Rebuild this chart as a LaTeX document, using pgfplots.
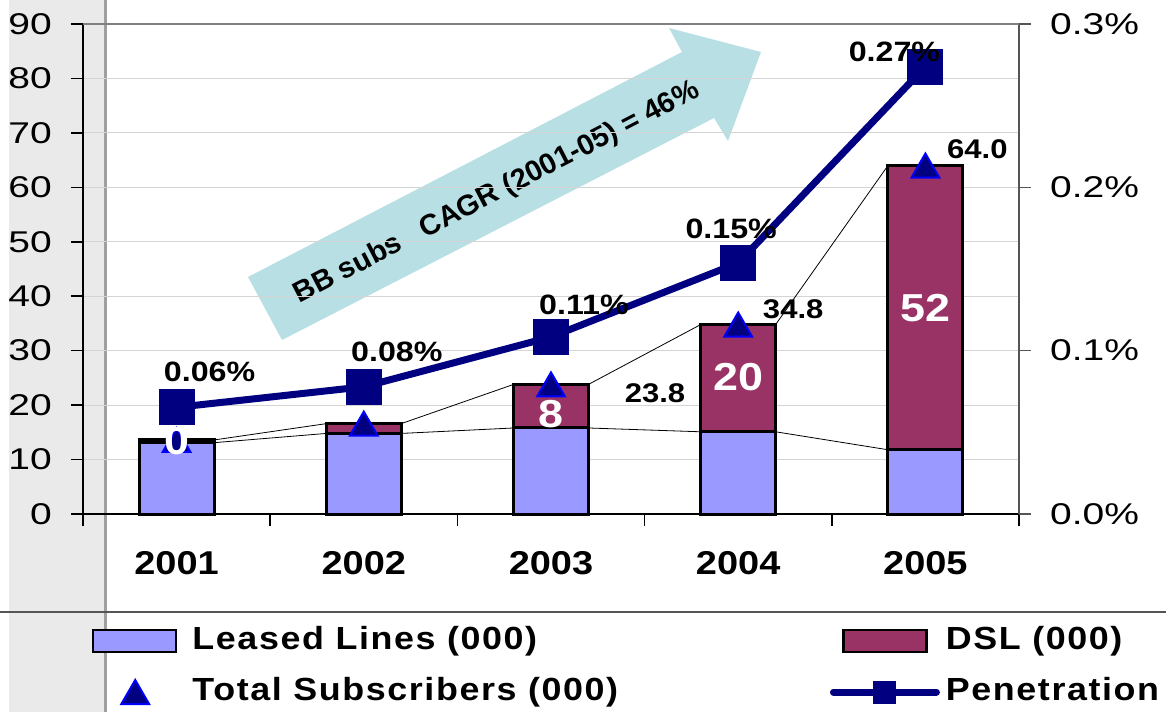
\documentclass[border=0pt]{standalone}
\usepackage{fontspec}
\usepackage{pgfplots}
\pgfplotsset{compat=1.18}
\setmainfont{Liberation Sans}
\newfontfamily\tickfont[FakeStretch=1.3]{Liberation Sans}
\newfontfamily\lblfont[FakeStretch=1.15]{Liberation Sans Bold}
\newfontfamily\legfont[FakeStretch=1.12, LetterSpace=5]{Liberation Sans Bold}
\newfontfamily\arrfont{Liberation Sans Bold}
\definecolor{leased}{HTML}{9999FF}
\definecolor{dsl}{HTML}{993366}
\definecolor{navyc}{HTML}{000080}
\definecolor{arrowc}{HTML}{B8DFE3}
\definecolor{gridc}{HTML}{D4D4D4}
\definecolor{bandc}{HTML}{EAEAEA}
\definecolor{bandline}{HTML}{A0A0A0}
\definecolor{sepc}{HTML}{555555}
\pgfplotsset{
  tri legend/.style={legend image code/.code={\draw[##1, mark repeat=2, mark phase=2] plot coordinates {(0pt,0pt) (42pt,0pt) (84pt,0pt)};}},
  pen legend/.style={legend image code/.code={\draw[##1, line cap=round, mark size=10.5pt, mark repeat=2, mark phase=2] plot coordinates {(0pt,0pt) (51pt,0pt) (103pt,0pt)};}},
  my legend/.style={legend style={at={#1}, anchor=north west, draw=none, fill=none,
    inner sep=0pt, outer sep=0pt, font=\legfont\fontsize{32}{32}\selectfont,
    row sep=20pt, nodes={inner sep=0pt, text height=24pt, text depth=7pt}},
    legend cell align=left},
}
\begin{document}
\begin{tikzpicture}
\useasboundingbox (0,0) rectangle (1166pt,712pt);
\fill[bandc] (9pt,0pt) rectangle (105pt,712pt);
\draw[bandline, line width=3pt] (105pt,0pt) -- (105pt,712pt);
% growth arrow
\fill[arrowc] (248pt,435pt) -- (682pt,660pt) -- (669pt,684pt) -- (761pt,660pt)
  -- (728pt,571pt) -- (714pt,594pt) -- (282pt,372pt) -- cycle;
\node[rotate=27.3, font=\arrfont\fontsize{29}{30}\selectfont] at (497pt,519pt)
  {BB subs\ \ \ CAGR (2001-05) = 46\%};

\begin{axis}[
  at={(83pt,198pt)}, anchor=south west,
  scale only axis, width=936pt, height=490pt,
  xmin=0.5, xmax=5.5, ymin=0, ymax=90,
  clip=false,
  axis x line*=bottom, axis y line*=left,
  axis line style={black, line width=1.5pt, -},
  tick align=outside, major tick length=12pt,
  tick style={black, line width=1.5pt},
  xtick={0.5,1.5,...,5.5},
  x tick label as interval,
  xticklabels={2001,2002,2003,2004,2005},
  xticklabel style={font=\lblfont\fontsize{33}{33}\selectfont, anchor=north, inner sep=0pt, yshift=-25pt},
  ytick={0,10,...,90},
  ymajorgrids, grid style={gridc, line width=1pt},
  yticklabel style={font=\tickfont\fontsize{30}{30}\selectfont, anchor=east, inner sep=0pt, xshift=-19pt},
  /pgf/number format/assume math mode=true,
  my legend={(0.0096,-0.2276)},
  legend style={/tikz/every odd column/.append style={column sep=15pt}},
]
% total (DSL on top of leased)
\addplot[ybar, bar width=0.4, bar shift=0pt, fill=dsl, draw=black, line width=3pt, forget plot]
  coordinates {(1,13.6) (2,16.6) (3,23.8) (4,34.8) (5,64.0)};
\addplot[ybar, bar width=0.4, bar shift=0pt, fill=leased, draw=black, line width=3pt,
  legend image code/.code={\draw[fill=leased, draw=black, line width=2.5pt] (0pt,-11pt) rectangle (83pt,11pt);}]
  coordinates {(1,13.1) (2,14.8) (3,15.8) (4,15.1) (5,11.8)};
\addlegendentry{Leased Lines (000)}
% series lines
\addplot[black, line width=0.8pt, mark=none, unbounded coords=jump, forget plot]
  coordinates {(1.2,13.1) (1.8,14.8) (2,nan) (2.2,14.8) (2.8,15.8) (3,nan) (3.2,15.8) (3.8,15.1) (4,nan) (4.2,15.1) (4.8,11.8)};
\addplot[black, line width=0.8pt, mark=none, unbounded coords=jump, forget plot]
  coordinates {(1.2,13.6) (1.8,16.6) (2,nan) (2.2,16.6) (2.8,23.8) (3,nan) (3.2,23.8) (3.8,34.8) (4,nan) (4.2,34.8) (4.8,64.0)};
\addplot[only marks, mark=triangle*, mark size=16pt,
  mark options={fill=navyc, draw=blue, line width=2pt, yshift=-4pt}, tri legend]
  coordinates {(1,13.6) (2,16.6) (3,23.8) (4,34.8) (5,64.0)};
\addlegendentry{Total Subscribers (000)}
\coordinate (d1) at (axis cs:1,13.4);
\coordinate (d3) at (axis cs:3,18.4);
\coordinate (d4) at (axis cs:4,25.2);
\coordinate (d5) at (axis cs:5,37.8);
\coordinate (t3) at (axis cs:3,23.8);
\coordinate (t4) at (axis cs:4,34.8);
\coordinate (t5) at (axis cs:5,64.0);
\end{axis}

\begin{axis}[
  at={(83pt,198pt)}, anchor=south west,
  scale only axis, width=936pt, height=490pt,
  xmin=0.5, xmax=5.5, ymin=0, ymax=0.3,
  clip=false,
  axis y line*=right, axis x line=none,
  axis line style={sepc, line width=1.5pt, -},
  tick align=outside, major tick length=12pt,
  tick style={sepc, line width=1.5pt},
  ytick={0,0.1,0.2,0.3},
  scaled y ticks=false,
  yticklabel={\pgfmathprintnumber[fixed, fixed zerofill, precision=1]{\tick}\%},
  yticklabel style={font=\tickfont\fontsize{30}{30}\selectfont, anchor=west, inner sep=0pt, xshift=19pt},
  /pgf/number format/assume math mode=true,
  my legend={(0.798,-0.2276)},
  legend style={/tikz/every odd column/.append style={column sep=6pt}},
]
\addlegendimage{legend image code/.code={\draw[fill=dsl, draw=black, line width=2.5pt] (10pt,-11pt) rectangle (93pt,11pt);}}
\addlegendentry{DSL (000)}
\addplot[navyc, line width=7pt, mark=square*, mark size=17pt,
  mark options={fill=navyc, draw=navyc, line width=2pt}, pen legend]
  coordinates {(1,0.0653) (2,0.0779) (3,0.1084) (4,0.1537) (5,0.2739)};
\addlegendentry{Penetration}
\coordinate (p1) at (axis cs:1,0.0653);
\coordinate (p2) at (axis cs:2,0.0779);
\coordinate (p3) at (axis cs:3,0.1084);
\coordinate (p4) at (axis cs:4,0.1537);
\coordinate (p5) at (axis cs:5,0.2739);
\end{axis}
\draw[bandline!80!black, line width=2pt] (83pt,688pt) -- (1019pt,688pt);
\draw[sepc, line width=1.5pt] (0pt,100pt) -- (1166pt,100pt);
% DSL values inside the bars
\begin{scope}[every node/.style={font=\lblfont\fontsize{39}{39}\selectfont, text=white}]
\node at (d1) {0};
\node at (d3) {8};
\node at (d4) {20};
\node at (d5) {52};
\end{scope}
% total subscribers
\begin{scope}[every node/.style={font=\lblfont\fontsize{27}{27}\selectfont}]
\node[xshift=104pt, yshift=-9pt] at (t3) {23.8};
\node[xshift=55pt, yshift=15pt] at (t4) {34.8};
\node[xshift=52pt, yshift=16pt] at (t5) {64.0};
\end{scope}
% penetration
\begin{scope}[every node/.style={font=\lblfont\fontsize{28}{28}\selectfont}]
\node[xshift=33pt, yshift=35pt] at (p1) {0.06\%};
\node[xshift=33pt, yshift=35pt] at (p2) {0.08\%};
\node[xshift=33pt, yshift=32pt] at (p3) {0.11\%};
\node[xshift=-7pt, yshift=34pt] at (p4) {0.15\%};
\node[xshift=-31pt, yshift=15pt] at (p5) {0.27\%};
\end{scope}
\end{tikzpicture}
\end{document}
